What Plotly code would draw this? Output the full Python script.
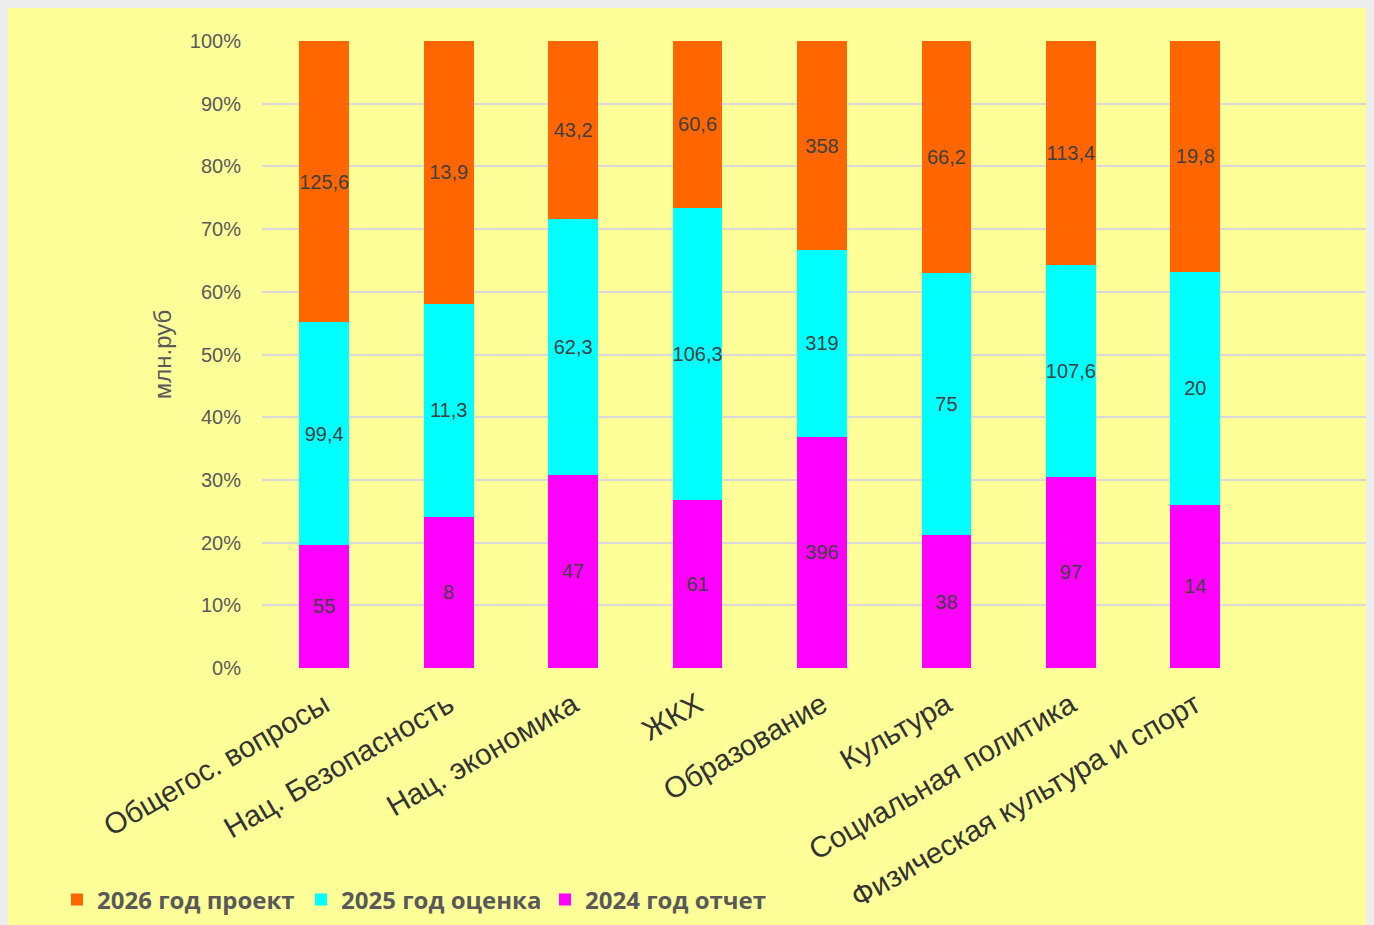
import plotly.graph_objects as go

categories = ["Общегос. вопросы", "Нац. Безопасность", "Нац. экономика", "ЖКХ",
              "Образование", "Культура", "Социальная политика", "Физическая культура и спорт"]
v2024 = [55, 8, 47, 61, 396, 38, 97, 14]
v2025 = [99.4, 11.3, 62.3, 106.3, 319, 75, 107.6, 20]
v2026 = [125.6, 13.9, 43.2, 60.6, 358, 66.2, 113.4, 19.8]
series = [("2024 год отчет", v2024, "#FF00FF"),
          ("2025 год оценка", v2025, "#00FFFF"),
          ("2026 год проект", v2026, "#FF6600")]
yticks = [0, 10, 20, 30, 40, 50, 60, 70, 80, 90, 100]


def fmt(v):
    return ("%g" % v).replace(".", ",")


fig = go.Figure()
for name, vals, color in series:
    fig.add_trace(go.Bar(
        x=categories, y=vals, name=name,
        marker=dict(color=color, line=dict(width=0)),
        text=[fmt(v) for v in vals], textposition="inside",
        insidetextanchor="middle", textangle=0, constraintext="none",
        textfont=dict(family="Liberation Sans, Arial, sans-serif", size=20, color="#404040"),
        width=0.4,
    ))

L, T, W, H = 254, 33, 1374, 925
B = H - 660
PW = W - L
PH = 660 - T

fig.update_layout(
    barmode="stack", barnorm="percent",
    width=W, height=H,
    margin=dict(l=L, r=0, t=T, b=B, pad=0),
    paper_bgcolor="#FFFF99",
    plot_bgcolor="#FFFF99",
    showlegend=True,
    legend=dict(orientation="h", traceorder="reversed",
                x=(49 - L) / PW, y=-(892 - 660) / PH,
                xanchor="left", yanchor="middle",
                font=dict(family="Open Sans, sans-serif", size=24, color="#595959", weight="bold"),
                itemwidth=30, entrywidth=199, entrywidthmode="pixels",
                bgcolor="rgba(0,0,0,0)"),
)
fig.update_xaxes(
    range=[-0.5, 8.5], tickangle=-30, showgrid=False, showline=False,
    ticks="", ticklabelstandoff=13,
    tickfont=dict(family="Liberation Sans, Arial, sans-serif", size=29.5, color="#333333"),
)
fig.update_yaxes(
    range=[0, 100], tickvals=yticks, ticktext=[f"{t}%" for t in yticks],
    showgrid=True, gridcolor="#D9D9D9", gridwidth=1.5, zeroline=False,
    ticks="", ticklabelstandoff=20,
    tickfont=dict(family="Liberation Sans, Arial, sans-serif", size=20, color="#595959"),
    title=dict(text="млн.руб", standoff=11,
               font=dict(family="Liberation Sans, Arial, sans-serif", size=24, color="#595959")),
)
fig.write_html(
    "out.html",
    default_width="1374px",
    default_height="925px",
    post_script=(
        "document.documentElement.style.overflow='hidden';"
        "document.body.style.overflow='hidden';"
        "document.body.style.background='#EDEDED';"
        "var d=document.querySelector('.plotly-graph-div');"
        "if(d){d.style.outline='1px solid #C8C8C8';}"
    ),
)
